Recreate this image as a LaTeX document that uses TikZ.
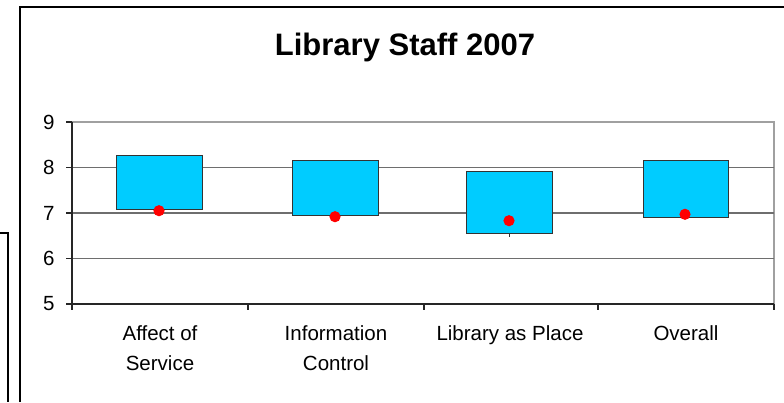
\documentclass[tikz,border=0pt]{standalone}
\usepackage{fontspec}
\setmainfont{Liberation Sans}
\definecolor{boxcyan}{HTML}{00CCFF}
\definecolor{gridgray}{HTML}{6E6E6E}
\definecolor{framegray}{HTML}{A0A0A0}

\begin{document}
\begin{tikzpicture}
            [x=1pt, y=-1pt, line join=miter,
             grid/.style={draw=gridgray, line width=1.2pt},
             axis/.style={draw=black!85, line width=1.2pt},
             stockbox/.style={draw=black!80, fill=boxcyan, line width=1pt},
             meanpt/.style={fill=red},
             ticklab/.style={anchor=east, font=\fontsize{20.5}{24}\selectfont},
             catlab/.style={anchor=north, align=center, font=\fontsize{20.5}{30}\selectfont}]
            \useasboundingbox (0,0) rectangle (784,402);

            \draw[line width=1.5pt] (20,402) -- (20,7) -- (784,7);
            \draw[line width=2pt] (0,233) -- (8,233) -- (8,402);

            \node[anchor=base, font=\fontsize{31}{37}\selectfont\bfseries] (title) at (405,55) {Library Staff 2007};

            \draw[draw=framegray, line width=1.4pt] (72,122) -- (774,122) -- (774,304);
            \draw[grid] (72,167.5) -- (774,167.5);
            \draw[grid] (72,213) -- (774,213);
            \draw[grid] (72,258.5) -- (774,258.5);

            \draw[axis] (72,122) -- (72,304) -- (774,304);
            \draw[axis] (66,122) -- (72,122);
            \draw[axis] (66,167.5) -- (72,167.5);
            \draw[axis] (66,213) -- (72,213);
            \draw[axis] (66,258.5) -- (72,258.5);
            \draw[axis] (66,304) -- (72,304);
            \draw[axis] (72,304) -- (72,310);
            \draw[axis] (248,304) -- (248,310);
            \draw[axis] (424,304) -- (424,310);
            \draw[axis] (598,304) -- (598,310);
            \draw[axis] (774,304) -- (774,310);

            \node[ticklab] (y9) at (58,122) {9};
            \node[ticklab] (y8) at (58,167.5) {8};
            \node[ticklab] (y7) at (58,213) {7};
            \node[ticklab] (y6) at (58,258.5) {6};
            \node[ticklab] (y5) at (58,304) {5};

            \draw[black!80, line width=1pt] (509,233.7) -- (509,237);
            \draw[stockbox] (116,155.7) rectangle (202,209);
            \draw[stockbox] (292,160) rectangle (378,215);
            \draw[stockbox] (466,171.7) rectangle (552,233.7);
            \draw[stockbox] (643,160) rectangle (728,217.3);

            \fill[meanpt] (159,210.7) circle (5.6);
            \fill[meanpt] (335,216.7) circle (5.6);
            \fill[meanpt] (509,220.7) circle (5.6);
            \fill[meanpt] (685,214.3) circle (5.6);

            \node[catlab] (affect) at (160,322) {Affect of\\Service};
            \node[catlab] (info) at (336,322) {Information\\Control};
            \node[catlab] (place) at (510,322) {Library as Place};
            \node[catlab] (overall) at (686,322) {Overall};
        \end{tikzpicture}
\end{document}
